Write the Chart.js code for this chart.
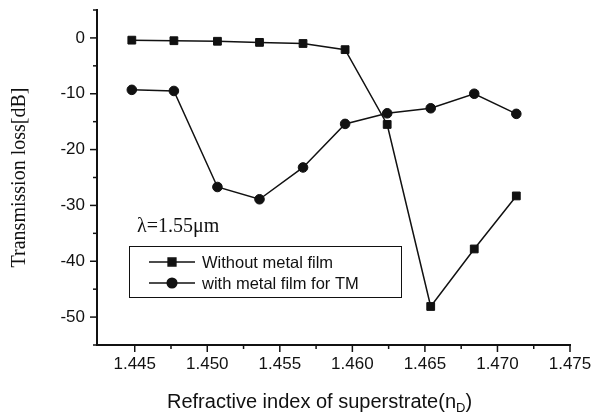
<!DOCTYPE html>
<html>
<head>
<meta charset="utf-8">
<script src="https://cdn.jsdelivr.net/npm/chart.js@4.4.1/dist/chart.umd.min.js"></script>
<style>
  html, body { margin: 0; padding: 0; background: #fff; }
  #wrap { width: 594px; height: 414px; }
</style>
</head>
<body>
<div id="wrap"><canvas id="lossChart" width="594" height="414"></canvas></div>
<script>
// Refractive index of superstrate (n_D), same points for both curves
const nValues = [1.4448, 1.4477, 1.4507, 1.4536, 1.4566, 1.4595, 1.4624, 1.4654, 1.4684, 1.4713];
// Transmission loss [dB]
const withoutFilm = [-0.4, -0.5, -0.6, -0.8, -1.0, -2.1, -15.5, -48.1, -37.8, -28.3];
const withFilmTM = [-9.3, -9.5, -26.7, -28.9, -23.2, -15.4, -13.5, -12.6, -10.0, -13.6];

const seriesNames = ["Without metal film", "with metal film for TM"];
const xMajor = [1.445, 1.450, 1.455, 1.460, 1.465, 1.470, 1.475];
const yMajor = [0, -10, -20, -30, -40, -50];

const INK = "#111";
const SANS = '"Liberation Sans", Arial, sans-serif';
const SERIF = '"Liberation Serif", "Times New Roman", serif';

const isMajor = (list, v) => list.some((m) => Math.abs(m - v) < 1e-6);

function toPoints(ys) {
  return ys.map((y, i) => ({ x: nValues[i], y }));
}

// minor ticks, legend, lambda note and x title with subscript
const decorations = {
  id: "decorations",
  afterDraw(chart) {
    const { ctx, chartArea, scales } = chart;
    const x = scales.x, y = scales.y;
    ctx.save();
    ctx.strokeStyle = INK;
    ctx.fillStyle = INK;
    ctx.lineWidth = 1.5;

    x.ticks.forEach((t) => {
      const px = x.getPixelForValue(t.value);
      const len = isMajor(xMajor, t.value) ? 7 : 4;
      ctx.beginPath();
      ctx.moveTo(px, chartArea.bottom);
      ctx.lineTo(px, chartArea.bottom + len);
      ctx.stroke();
    });
    y.ticks.forEach((t) => {
      const py = y.getPixelForValue(t.value);
      const len = isMajor(yMajor, t.value) ? 7 : 4;
      ctx.beginPath();
      ctx.moveTo(chartArea.left, py);
      ctx.lineTo(chartArea.left - len, py);
      ctx.stroke();
    });

    // wavelength note
    ctx.font = "20px " + SERIF;
    ctx.textAlign = "left";
    ctx.textBaseline = "alphabetic";
    ctx.fillText("λ=1.55μm", 137, 232);

    // legend box
    ctx.lineWidth = 1;
    ctx.strokeRect(129.5, 246.5, 272, 51);
    ctx.font = "16.5px " + SANS;
    ctx.textBaseline = "middle";
    chart.data.datasets.forEach((ds, i) => {
      const rowY = 262 + i * 21;
      ctx.lineWidth = ds.borderWidth;
      ctx.beginPath();
      ctx.moveTo(149, rowY);
      ctx.lineTo(195, rowY);
      ctx.stroke();
      Chart.helpers.drawPoint(ctx, {
        pointStyle: ds.pointStyle,
        radius: ds.pointRadius,
        rotation: 0,
        borderWidth: 1
      }, 172, rowY);
      ctx.fillText(ds.label, 202, rowY + 1);
    });

    // x axis title with subscript D
    ctx.textBaseline = "alphabetic";
    ctx.font = "20px " + SANS;
    const main = "Refractive index of superstrate(n";
    let tx = 167;
    ctx.fillText(main, tx, 408);
    tx += ctx.measureText(main).width;
    ctx.font = "13px " + SANS;
    ctx.fillText("D", tx, 412);
    tx += ctx.measureText("D").width;
    ctx.font = "20px " + SANS;
    ctx.fillText(")", tx, 408);
    ctx.restore();
  }
};

const lineStyle = {
  borderColor: INK,
  backgroundColor: INK,
  pointBackgroundColor: INK,
  pointBorderColor: INK,
  borderWidth: 1.5,
  pointBorderWidth: 1,
  tension: 0
};

new Chart(document.getElementById("lossChart"), {
  type: "line",
  data: {
    datasets: [
      Object.assign({
        label: seriesNames[0],
        data: toPoints(withoutFilm),
        pointStyle: "rect",
        pointRadius: 5.5
      }, lineStyle),
      Object.assign({
        label: seriesNames[1],
        data: toPoints(withFilmTM),
        pointStyle: "circle",
        pointRadius: 4.8
      }, lineStyle)
    ]
  },
  options: {
    responsive: false,
    animation: false,
    events: [],
    layout: { padding: { top: 10, right: 24, left: 0, bottom: 0 } },
    plugins: {
      legend: { display: false },
      tooltip: { enabled: false }
    },
    scales: {
      x: {
        type: "linear",
        min: 1.4424,
        max: 1.475,
        afterBuildTicks(scale) {
          const ticks = [];
          xMajor.forEach((m) => {
            ticks.push({ value: m });
            if (m + 0.0025 <= scale.max) ticks.push({ value: m + 0.0025 });
          });
          scale.ticks = ticks;
        },
        afterFit(scale) {
          scale.height = 69;
          scale.paddingLeft = 0;
          scale.paddingRight = 0;
        },
        border: { display: true, color: INK, width: 2 },
        grid: { drawOnChartArea: false, drawTicks: false },
        ticks: {
          autoSkip: false,
          maxRotation: 0,
          padding: 9,
          color: INK,
          font: { family: SANS, size: 17 },
          callback: (v) => (isMajor(xMajor, v) ? v.toFixed(3) : "")
        }
      },
      y: {
        min: -55,
        max: 5,
        afterBuildTicks(scale) {
          const ticks = [];
          for (let v = scale.min; v <= scale.max; v += 5) ticks.push({ value: v });
          scale.ticks = ticks;
        },
        afterFit(scale) {
          scale.width = 97;
          scale.paddingTop = 0;
          scale.paddingBottom = 0;
        },
        border: { display: true, color: INK, width: 2 },
        grid: { drawOnChartArea: false, drawTicks: false },
        ticks: {
          autoSkip: false,
          padding: 12,
          color: INK,
          font: { family: SANS, size: 17 },
          callback: (v) => (isMajor(yMajor, v) ? String(v) : "")
        },
        title: {
          display: true,
          text: "Transmission loss[dB]",
          color: INK,
          font: { family: SERIF, size: 20 },
          padding: { top: 8, bottom: 0 }
        }
      }
    }
  },
  plugins: [decorations]
});
</script>
</body>
</html>
